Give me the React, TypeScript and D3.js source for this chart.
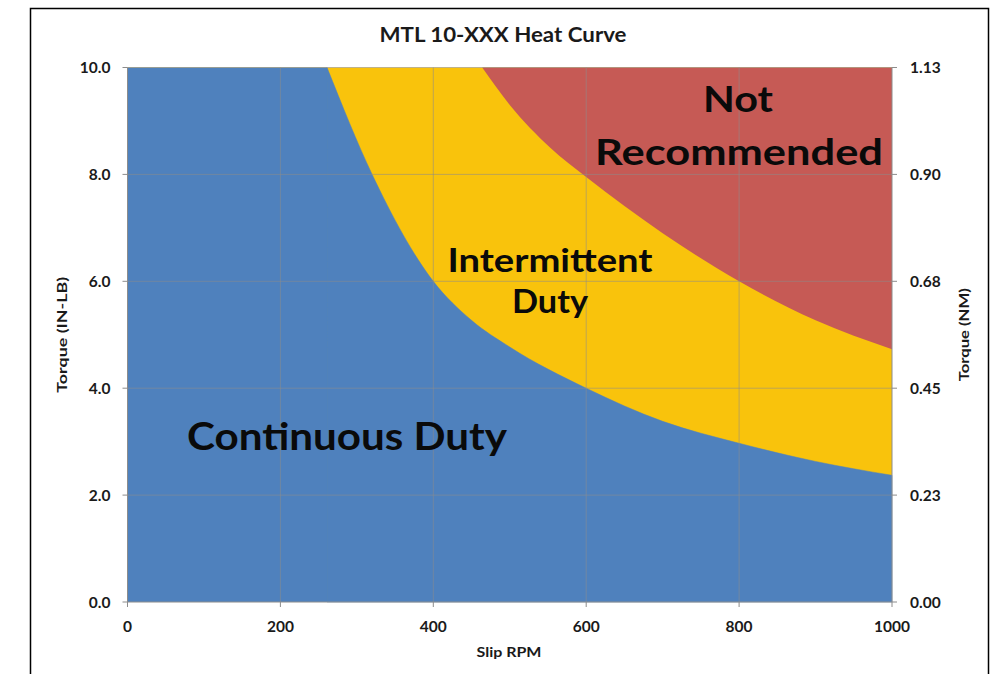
import React from "react";
import * as d3 from "d3";

// continuous duty upper limit (in-lb) vs slip rpm
const continuousRpm = [0, 261, 320, 400, 450, 500, 600, 700, 800, 900, 1000];
const continuousLimit = [10, 10, 8.0, 6.0, 5.27, 4.77, 4.0, 3.38, 2.97, 2.63, 2.37];

// intermittent duty upper limit (in-lb) vs slip rpm
const intermittentRpm = [464, 500, 553, 600, 700, 800, 900, 1000];
const intermittentLimit = [10, 9.3, 8.5, 7.95, 6.9, 6.0, 5.27, 4.73];

const xTicks = [0, 200, 400, 600, 800, 1000];
const yTicks = [0, 2, 4, 6, 8, 10];
const nmLabels = ["0.00", "0.23", "0.45", "0.68", "0.90", "1.13"];

const FONT = "Lato, 'Open Sans', sans-serif";

const App = () => {
  const margin = { left: 127.5, right: 105, top: 67.5, bottom: 72 };
  const width = 997;
  const height = 674;

  const x = d3.scaleLinear().domain([0, 1000]).range([margin.left, width - margin.right]);
  const y = d3.scaleLinear().domain([0, 10]).range([height - margin.bottom, margin.top]);

  const cont = continuousRpm.map((r, i) => ({ r, v: continuousLimit[i] }));
  const inter = intermittentRpm.map((r, i) => ({ r, v: intermittentLimit[i] }));

  // flat part (at the top of the axis) and curved part are split so the corner stays sharp
  const cornerRpm = continuousRpm[1];
  const contFlat = cont.filter((d) => d.r <= cornerRpm);
  const contCurve = cont.filter((d) => d.r >= cornerRpm);

  const underArea = d3
    .area<any>()
    .x((d) => x(d.r))
    .y0(y(0))
    .y1((d) => y(d.v))
    .curve(d3.curveMonotoneX);

  const overArea = d3
    .area<any>()
    .x((d) => x(d.r))
    .y0((d) => y(d.v))
    .y1(y(10))
    .curve(d3.curveMonotoneX);

  const fullArea = d3
    .area<any>()
    .x((d) => x(d))
    .y0(y(0))
    .y1(y(10));

  const x0 = x(0);
  const x1 = x(1000);
  const yb = y(0);
  const yt = y(10);

  return (
    <svg
      width={width}
      height={height}
      style={{ position: "absolute", left: 0, top: 0, background: "#fff" }}
      fontFamily={FONT}
    >
      <rect x={30.5} y={8.5} width={958} height={700} fill="#fff" stroke="#000" strokeWidth={1.5} />

      <text x={503} y={42} textAnchor="middle" fontSize={20} fontWeight="bold" fill="#1a1a1a" textLength={247} lengthAdjust="spacingAndGlyphs">
        MTL 10-XXX Heat Curve
      </text>

      {/* regions: intermittent background, not-recommended on top, continuous below */}
      <path d={fullArea([0, 1000]) || ""} fill="#F9C30C" />
      <path d={overArea(inter) || ""} fill="#C65A55" />
      <path d={underArea(contFlat) || ""} fill="#4F81BD" />
      <path d={underArea(contCurve) || ""} fill="#4F81BD" stroke="#4F81BD" strokeWidth={0.5} />

      {/* gridlines */}
      <g stroke="#8c8c8c" strokeOpacity={0.55} strokeWidth={1}>
        {xTicks.slice(1, -1).map((t) => (
          <line key={"gx" + t} x1={x(t)} x2={x(t)} y1={yt} y2={yb} />
        ))}
        {yTicks.slice(1).map((t) => (
          <line key={"gy" + t} x1={x0} x2={x1} y1={y(t)} y2={y(t)} />
        ))}
      </g>

      {/* axis lines and ticks */}
      <g stroke="#8c8c8c" strokeWidth={1}>
        <line x1={x0} x2={x0} y1={yt} y2={yb} />
        <line x1={x1} x2={x1} y1={yt} y2={yb} />
        <line x1={x0} x2={x1} y1={yb} y2={yb} />
        {yTicks.map((t) => (
          <line key={"tl" + t} x1={x0 - 5} x2={x0} y1={y(t)} y2={y(t)} />
        ))}
        {yTicks.map((t) => (
          <line key={"tr" + t} x1={x1} x2={x1 + 5} y1={y(t)} y2={y(t)} />
        ))}
        {xTicks.map((t) => (
          <line key={"tx" + t} x1={x(t)} x2={x(t)} y1={yb} y2={yb + 5} />
        ))}
      </g>

      {/* tick labels */}
      <g fontSize={15.5} fontWeight="bold" fill="#1a1a1a">
        {yTicks.map((t) => (
          <text key={"ly" + t} x={x0 - 17} y={y(t) + 5.5} textAnchor="end">
            {t.toFixed(1)}
          </text>
        ))}
        {yTicks.map((t, i) => (
          <text key={"ln" + t} x={x1 + 18} y={y(t) + 5.5} textAnchor="start">
            {nmLabels[i]}
          </text>
        ))}
        {xTicks.map((t) => (
          <text key={"lx" + t} x={x(t)} y={yb + 30} textAnchor="middle">
            {t}
          </text>
        ))}
      </g>

      {/* axis titles */}
      <text x={509} y={657} textAnchor="middle" fontSize={14} fontWeight="bold" fill="#1a1a1a" textLength={65} lengthAdjust="spacingAndGlyphs">
        Slip RPM
      </text>
      <text
        transform={`translate(67, ${(yt + yb) / 2}) rotate(-90)`}
        textAnchor="middle"
        fontSize={14}
        fontWeight="bold"
        fill="#1a1a1a"
        textLength={116}
        lengthAdjust="spacingAndGlyphs"
      >
        Torque (IN-LB)
      </text>
      <text
        transform={`translate(969, ${(yt + yb) / 2}) rotate(-90)`}
        textAnchor="middle"
        fontSize={14}
        fontWeight="bold"
        fill="#1a1a1a"
        textLength={93}
        lengthAdjust="spacingAndGlyphs"
      >
        Torque (NM)
      </text>

      {/* region labels */}
      <g fontWeight="bold" fill="#0a0a0a" textAnchor="middle">
        <text x={738} y={112} fontSize={36} textLength={70} lengthAdjust="spacingAndGlyphs">
          Not
        </text>
        <text x={739} y={165} fontSize={36} textLength={288} lengthAdjust="spacingAndGlyphs">
          Recommended
        </text>
        <text x={550} y={272} fontSize={33} textLength={205} lengthAdjust="spacingAndGlyphs">
          Intermittent
        </text>
        <text x={550} y={313} fontSize={33} textLength={76} lengthAdjust="spacingAndGlyphs">
          Duty
        </text>
        <text x={347} y={450} fontSize={38} textLength={320} lengthAdjust="spacingAndGlyphs">
          Continuous Duty
        </text>
      </g>
    </svg>
  );
};

export default App;
